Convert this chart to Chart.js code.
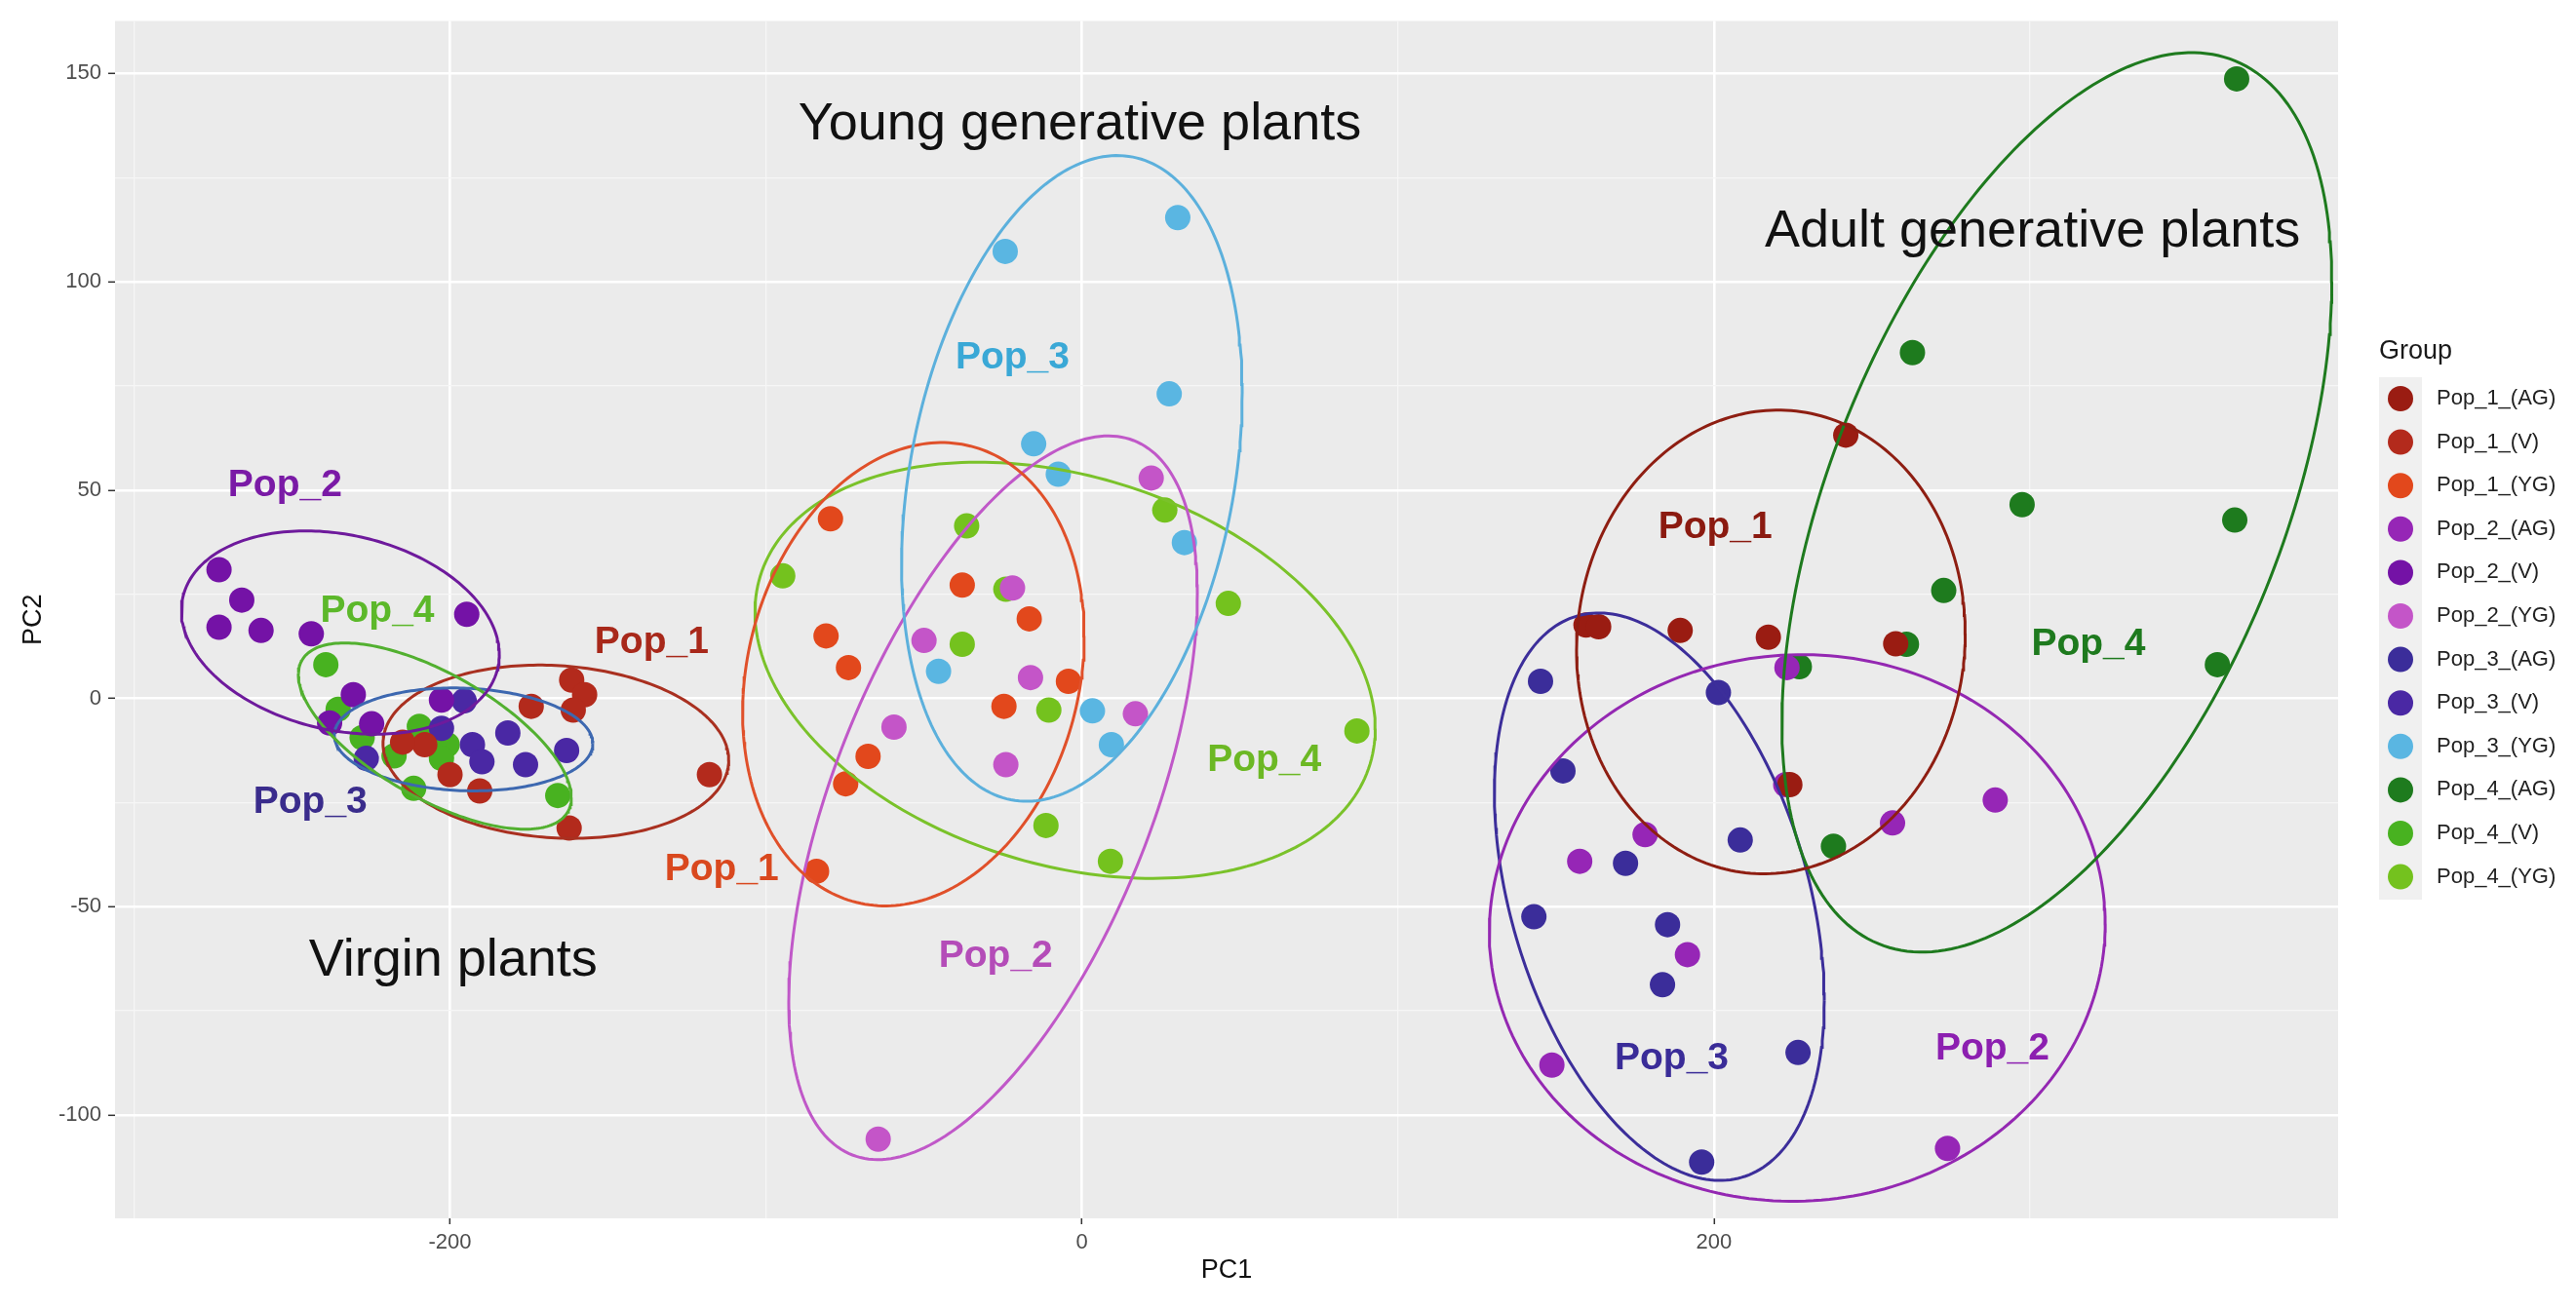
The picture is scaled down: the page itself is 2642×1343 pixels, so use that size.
<!DOCTYPE html>
<html><head><meta charset="utf-8">
<script src="https://cdn.jsdelivr.net/npm/chart.js@4"></script>
<style>html,body{margin:0;padding:0;background:#fff;}#wrap{width:2642px;height:1343px;position:relative;}</style>
</head><body><div id="wrap"><canvas id="c"></canvas></div>
<script>
// ---- data ----
const groups = ['Pop_1_(AG)','Pop_1_(V)','Pop_1_(YG)','Pop_2_(AG)','Pop_2_(V)','Pop_2_(YG)','Pop_3_(AG)','Pop_3_(V)','Pop_3_(YG)','Pop_4_(AG)','Pop_4_(V)','Pop_4_(YG)'];

const p1agX = [241.7,159.5,163.5,189.3,217.2,257.5,224.0];
const p1agY = [63.2,17.6,17.2,16.3,14.7,13.1,-20.7];
const p1vX = [-161.5,-157.4,-161.0,-174.3,-117.9,-162.3,-190.6,-200.0,-208.0,-215.0];
const p1vY = [4.4,0.9,-2.8,-1.9,-18.3,-31.1,-22.2,-18.3,-11.1,-10.5];
const p1ygX = [-79.6,-37.9,-16.7,-81.0,-73.9,-4.3,-24.7,-67.7,-74.8,-84.0];
const p1ygY = [43.1,27.2,19.1,15.0,7.4,4.1,-1.9,-13.9,-20.5,-41.5];

const p2agX = [289.0,256.5,178.2,157.5,191.6,148.7,273.9,222.7,223.1];
const p2agY = [-24.4,-29.9,-32.7,-39.1,-61.5,-88.0,-108.0,-20.7,7.4];
const p2vX = [-273.1,-265.9,-273.1,-259.8,-243.9,-194.7,-230.6,-224.8,-202.7,-238.1];
const p2vY = [30.9,23.6,17.1,16.3,15.5,20.2,0.9,-6.1,-0.4,-5.9];
const p2ygX = [21.9,-22.0,-50.0,-16.3,16.9,-59.5,-24.1,-64.5];
const p2ygY = [52.9,26.5,13.9,5.0,-3.7,-6.9,-15.9,-105.8];

const p3agX = [145.1,201.4,152.2,208.3,172.0,143.0,185.3,183.7,226.6,196.1];
const p3agY = [4.1,1.4,-17.4,-34.0,-39.6,-52.4,-54.3,-68.7,-85.0,-111.3];
const p3vX = [-195.5,-202.7,-181.7,-192.9,-189.9,-176.1,-163.1,-226.5];
const p3vY = [-0.6,-7.2,-8.3,-11.1,-15.2,-15.9,-12.5,-14.4];
const p3ygX = [30.3,-24.3,27.6,-15.3,-7.5,32.4,-45.4,3.3,9.3];
const p3ygY = [115.4,107.3,73.1,61.1,53.8,37.4,6.5,-3.0,-11.1];

const p4agX = [365.4,262.8,297.5,364.8,272.7,260.9,359.3,227.0,237.8];
const p4agY = [148.7,83.0,46.5,42.8,25.9,13.0,8.1,7.6,-35.5];
const p4vX = [-239.3,-235.4,-209.7,-227.8,-217.7,-200.9,-202.7,-211.5,-165.9];
const p4vY = [8.1,-2.6,-6.7,-9.4,-13.8,-11.1,-14.4,-21.6,-23.3];
const p4ygX = [26.2,-36.5,-94.7,-24.1,46.3,-37.9,-10.5,87.0,-11.4,9.0];
const p4ygY = [45.2,41.4,29.4,26.2,22.8,13.0,-2.8,-7.8,-30.5,-39.1];

const seriesX = [p1agX,p1vX,p1ygX,p2agX,p2vX,p2ygX,p3agX,p3vX,p3ygX,p4agX,p4vX,p4ygX];
const seriesY = [p1agY,p1vY,p1ygY,p2agY,p2vY,p2ygY,p3agY,p3vY,p3ygY,p4agY,p4vY,p4ygY];

// confidence ellipses: centre, half-extent in x and y, y-offset at the rightmost point
const ellGroup = ['Pop_2_(V)','Pop_4_(V)','Pop_3_(V)','Pop_1_(V)','Pop_3_(YG)','Pop_1_(YG)','Pop_2_(YG)','Pop_4_(YG)','Pop_1_(AG)','Pop_4_(AG)','Pop_2_(AG)','Pop_3_(AG)'];
const ellCx = [-234.7,-204.8,-195.7,-166.5,-3.2,-53.35,-28.15,-5.35,218.0,308.5,226.35,182.7];
const ellCy = [15.8,-9.05,-9.85,-12.8,52.8,5.8,-23.85,6.75,13.55,47.05,-55.1,-47.6];
const ellRx = [50.3,43.2,40.9,54.7,53.9,54.05,64.65,98.15,61.5,87.0,97.45,52.2];
const ellRy = [24.4,22.35,12.35,20.8,77.5,55.6,86.85,49.95,55.65,107.95,65.6,68.1];
const ellK = [-5.3,-14.75,-1.0,-2.0,20.6,9.2,49.0,-14.0,2.0,53.0,1.0,-25.0];

// text annotations
const annText = ['Pop_2','Pop_4','Pop_1','Pop_3','Virgin plants','Young generative plants','Pop_3','Pop_1','Pop_4','Pop_2','Adult generative plants','Pop_1','Pop_4','Pop_3','Pop_2'];
const annX = [-252.2,-223.0,-136.2,-244.2,-199.0,-0.7,-22.0,-114.0,57.7,-27.3,300.8,200.4,318.5,186.6,288.1];
const annY = [51.0,20.8,13.3,-25.0,-63.1,137.6,81.7,-41.0,-15.0,-62.0,112.0,41.1,12.9,-86.4,-84.2];

// axes: grid positions and labelled (major) ticks
const xGridValues = [-300,-200,-100,0,100,200,300];
const xTickLabels = [-200,0,200];
const yGridValues = [-100,-75,-50,-25,0,25,50,75,100,125,150];
const yTickLabels = [-100,-50,0,50,100,150];

// ---- styles ----
const pointColors = ['#9a1c12','#b32a1c','#e2481c','#9626b6','#7412a6','#c455c8','#3b2d9a','#4a28a4','#5ab6e2','#1e7b1e','#48b220','#74c21e'];
const ellColors = ['#6e1a9c','#52b030','#3d68b0','#a93020','#5cb0dc','#e0502a','#c058c8','#7ac22a','#8e1e12','#1e7a1e','#9428b2','#3c2e9a'];
const annColors = ['#7a1aa6','#5cb82a','#a8281a','#3a2c8c','#111111','#111111','#3aa8d6','#d9481e','#6cb824','#b44cb8','#111111','#8b1a10','#1e7a1e','#3a2c98','#8c1fb0'];
const annBold = [true,true,true,true,false,false,true,true,true,true,false,true,true,true,true];
const FONT = '"Liberation Sans", Arial, sans-serif';

const datasets = [];
groups.forEach((g,i)=>{
  datasets.push({
    label: g,
    data: seriesX[i].map((x,j)=>({x:x,y:seriesY[i][j]})),
    backgroundColor: pointColors[i], borderColor: pointColors[i],
    pointRadius: 13, pointBorderWidth: 0, pointHoverRadius: 13, order: 2
  });
});
ellGroup.forEach((g,i)=>{
  const pts = [];
  const s = Math.sqrt(ellRy[i]*ellRy[i]-ellK[i]*ellK[i]);
  for (let t=0;t<=240;t++){
    const a = t/240*2*Math.PI;
    pts.push({x: ellCx[i]+ellRx[i]*Math.cos(a), y: ellCy[i]+ellK[i]*Math.cos(a)+s*Math.sin(a)});
  }
  datasets.push({
    label: 'ellipse '+g, data: pts, showLine: true, pointRadius: 0, pointHoverRadius: 0,
    borderColor: ellColors[i], borderWidth: 3, fill: false, tension: 0, order: 1
  });
});

const bgPlugin = {
  id:'panelbg',
  beforeDraw(chart){
    const {ctx, chartArea:a} = chart;
    ctx.save(); ctx.fillStyle='#ebebeb'; ctx.fillRect(a.left,a.top,a.right-a.left,a.bottom-a.top); ctx.restore();
  }
};
const annPlugin = {
  id:'annotations',
  afterDraw(chart){
    const ctx = chart.ctx, xs = chart.scales.x, ys = chart.scales.y;
    ctx.save();
    ctx.textAlign='center'; ctx.textBaseline='middle';
    annText.forEach((t,i)=>{
      ctx.font = annBold[i] ? 'bold 39px '+FONT : '54px '+FONT;
      ctx.fillStyle = annColors[i];
      ctx.fillText(t, xs.getPixelForValue(annX[i]), ys.getPixelForValue(annY[i]));
    });
    // legend
    ctx.textAlign='left';
    ctx.fillStyle='#1a1a1a';
    ctx.font='27px '+FONT;
    ctx.fillText('Group', 2440, 361);
    ctx.fillStyle='#f0f0f0';
    ctx.fillRect(2440, 387, 44, 536);
    ctx.font='22px '+FONT;
    groups.forEach((g,i)=>{
      const cy = 409 + i*44.6;
      ctx.beginPath(); ctx.fillStyle=pointColors[i]; ctx.arc(2462, cy, 13, 0, 2*Math.PI); ctx.fill();
      ctx.fillStyle='#222'; ctx.fillText(g, 2499, cy);
    });
    ctx.restore();
  }
};

const isMajor = (v, list) => list.indexOf(v) >= 0;

new Chart(document.getElementById('c'), {
  type:'scatter',
  data:{datasets},
  options:{
    responsive:true, maintainAspectRatio:false, animation:false, events:[],
    layout:{padding:{left:0,top:21.5,right:244,bottom:0}},
    plugins:{legend:{display:false}, tooltip:{enabled:false}},
    scales:{
      x:{
        type:'linear', min:-306, max:397.5,
        afterBuildTicks(s){ s.ticks = xGridValues.map(v=>({value:v})); },
        afterFit(s){ s.height = 93; },
        ticks:{autoSkip:false, maxRotation:0, padding:6,
          color:'#4d4d4d', font:{family:FONT, size:22},
          callback:(v)=> isMajor(v,xTickLabels) ? String(v) : ''},
        grid:{color:(c)=> isMajor(c.tick.value,xTickLabels)?'#ffffff':'#f6f6f6',
              lineWidth:(c)=> isMajor(c.tick.value,xTickLabels)?2.6:1.3,
              tickColor:(c)=> isMajor(c.tick.value,xTickLabels)?'#333333':'rgba(0,0,0,0)',
              tickLength:6, tickWidth:1.5},
        border:{display:false},
        title:{display:true, text:'PC1', color:'#111', font:{family:FONT, size:27}, padding:{top:0,bottom:23}}
      },
      y:{
        type:'linear', min:-124.8, max:162.6,
        afterBuildTicks(s){ s.ticks = yGridValues.map(v=>({value:v})); },
        afterFit(s){ s.width = 118; },
        ticks:{autoSkip:false, padding:7,
          color:'#4d4d4d', font:{family:FONT, size:22},
          callback:(v)=> isMajor(v,yTickLabels) ? String(v) : ''},
        grid:{color:(c)=> isMajor(c.tick.value,yTickLabels)?'#ffffff':'#f6f6f6',
              lineWidth:(c)=> isMajor(c.tick.value,yTickLabels)?2.6:1.3,
              tickColor:(c)=> isMajor(c.tick.value,yTickLabels)?'#333333':'rgba(0,0,0,0)',
              tickLength:7, tickWidth:1.5},
        border:{display:false},
        title:{display:true, text:'PC2', color:'#111', font:{family:FONT, size:27}, padding:{top:18,bottom:0}}
      }
    }
  },
  plugins:[bgPlugin, annPlugin]
});
</script></body></html>
